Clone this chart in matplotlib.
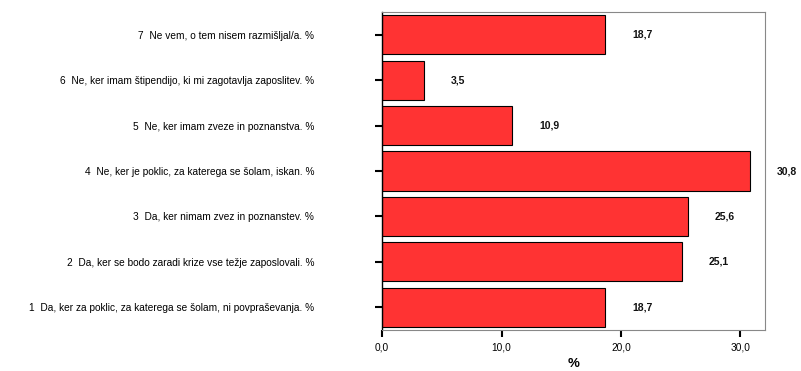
import matplotlib
matplotlib.use("Agg")
import matplotlib.pyplot as plt

categories = [
    "1  Da, ker za poklic, za katerega se šolam, ni povpraševanja. %",
    "2  Da, ker se bodo zaradi krize vse težje zaposlovali. %",
    "3  Da, ker nimam zvez in poznanstev. %",
    "4  Ne, ker je poklic, za katerega se šolam, iskan. %",
    "5  Ne, ker imam zveze in poznanstva. %",
    "6  Ne, ker imam štipendijo, ki mi zagotavlja zaposlitev. %",
    "7  Ne vem, o tem nisem razmišljal/a. %",
]
values = [18.7, 25.1, 25.6, 30.8, 10.9, 3.5, 18.7]
xticks = [0, 10, 20, 30]
xtick_labels = ["0,0", "10,0", "20,0", "30,0"]

plt.rcParams['font.family'] = ['Liberation Sans', 'DejaVu Sans']

fig = plt.figure(figsize=(8.01, 3.71), dpi=100)
ax = fig.add_axes([0.477, 0.1105, 0.478, 0.857])

ypos = list(range(len(categories)))
ax.barh(ypos, values, height=0.86, color='#FF3333', edgecolor='black', linewidth=0.8)

for y, v in zip(ypos, values):
    ax.annotate(f"{v:.1f}".replace('.', ','), xy=(v, y), xytext=(27, 0),
                textcoords='offset pixels',
                ha='left', va='center', fontsize=7.5, fontweight='bold', color='#111111')

ax.set_xlim(0, 32.05)
ax.set_ylim(-0.5, 6.5)
ax.set_yticks(ypos)
ax.set_yticklabels(categories, fontsize=7.3)
ax.set_xticks(xticks)
ax.set_xticklabels(xtick_labels, fontsize=7.3)
ax.tick_params(axis='y', length=5, width=1.5, pad=44, color='black')
ax.tick_params(axis='x', length=5, width=1.5, pad=4, color='black')
ax.set_xlabel('%', fontsize=9.5, fontweight='bold', labelpad=4)

for s in ['top', 'right', 'bottom']:
    ax.spines[s].set_color('#888888')
    ax.spines[s].set_linewidth(0.8)
ax.spines['left'].set_color('black')
ax.spines['left'].set_linewidth(1.0)

fig.savefig('out.png', dpi=100)
